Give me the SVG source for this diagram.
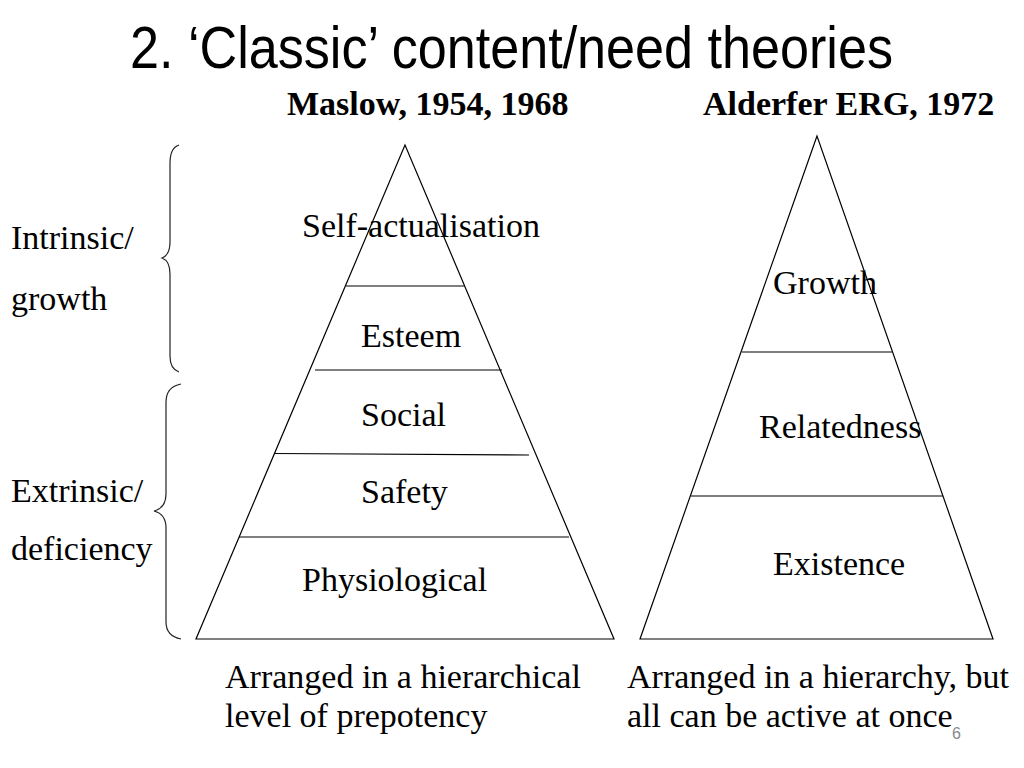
<svg xmlns="http://www.w3.org/2000/svg" width="1024" height="768" viewBox="0 0 1024 768">
<style>
.ln{fill:none;stroke:#000;stroke-width:1.2}
.br{fill:none;stroke:#222;stroke-width:1.2}
.t{font-family:"Liberation Serif","Times New Roman",serif;font-size:34px;fill:#000}
.b{font-family:"Liberation Serif","Times New Roman",serif;font-size:34px;font-weight:bold;fill:#000}
.h{font-family:"Liberation Sans",Arial,sans-serif;font-size:60px;fill:#000}
.pg{font-family:"Liberation Sans",Arial,sans-serif;font-size:16px;fill:#8a8a8a}
</style>
<rect width="1024" height="768" fill="#fff"/>
<g id="title">
<text class="h" x="130" y="68" textLength="763" lengthAdjust="spacingAndGlyphs">2. ‘Classic’ content/need theories</text>
</g>
<g id="subtitles">
<text class="b" x="287" y="115">Maslow, 1954, 1968</text>
<text class="b" x="703" y="115">Alderfer ERG, 1972</text>
</g>
<g id="maslow">
<polygon class="ln" points="405,145 196,639 614,639"/>
<line class="ln" x1="346" y1="286" x2="465" y2="286"/>
<line class="ln" x1="315" y1="370" x2="502" y2="370"/>
<line class="ln" x1="274" y1="453.5" x2="529" y2="455"/>
<line class="ln" x1="239" y1="537" x2="569" y2="537"/>
<text class="t" x="302" y="237">Self-actualisation</text>
<text class="t" x="361" y="347">Esteem</text>
<text class="t" x="361" y="426">Social</text>
<text class="t" x="361" y="503">Safety</text>
<text class="t" x="302" y="591">Physiological</text>
</g>
<g id="erg">
<polygon class="ln" points="817,136 640,639 993,639"/>
<line class="ln" x1="742" y1="352" x2="892" y2="352"/>
<line class="ln" x1="691" y1="496" x2="943" y2="496"/>
<text class="t" x="773" y="294">Growth</text>
<text class="t" x="759" y="438">Relatedness</text>
<text class="t" x="773" y="575">Existence</text>
</g>
<g id="braces">
<path class="br" d="M179,145 Q170,148 170,163 L170,242 Q170,255 162,258 Q170,261 170,274 L170,356 Q170,369 179,372"/>
<path class="br" d="M181,384 Q166,387 166,402 L166,494 Q166,508 154,511 Q166,514 166,528 L166,622 Q166,636 181,639"/>
</g>
<g id="labels">
<text class="t" x="11" y="249">Intrinsic/</text>
<text class="t" x="11" y="310">growth</text>
<text class="t" x="11" y="502">Extrinsic/</text>
<text class="t" x="11" y="560">deficiency</text>
</g>
<g id="captions">
<text class="t" x="225" y="688">Arranged in a hierarchical</text>
<text class="t" x="225" y="727">level of prepotency</text>
<text class="t" x="627" y="688">Arranged in a hierarchy, but</text>
<text class="t" x="627" y="727">all can be active at once</text>
<text class="pg" x="952" y="739">6</text>
</g>
</svg>
